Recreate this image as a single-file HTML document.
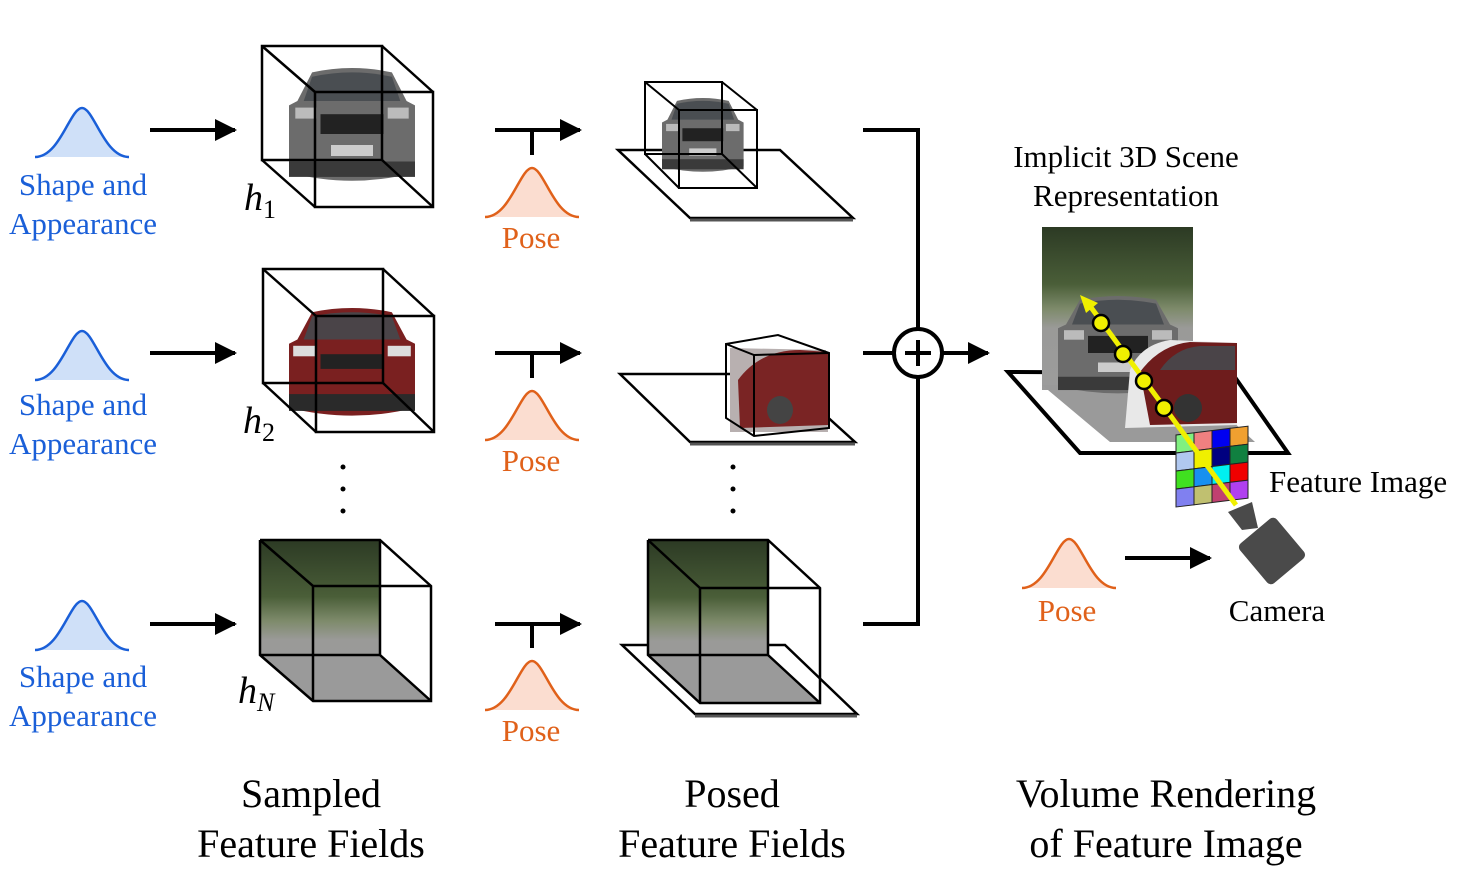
<!DOCTYPE html>
<html><head><meta charset="utf-8"><style>
html,body{margin:0;padding:0;background:#fff}
svg{display:block}
text{font-family:"Liberation Serif",serif}
</style></head><body>
<svg width="1471" height="883" viewBox="0 0 1471 883" xmlns="http://www.w3.org/2000/svg">
<defs>
<marker id="ah" markerWidth="22" markerHeight="22" refX="20" refY="11" orient="auto" markerUnits="userSpaceOnUse" viewBox="0 0 22 22">
<path d="M0,0 L22,11 L0,22 z" fill="#000"/></marker>
<linearGradient id="bg" x1="0" y1="0" x2="0" y2="1">
<stop offset="0" stop-color="#2c3a24"/><stop offset="0.35" stop-color="#4a5e38"/><stop offset="0.5" stop-color="#7d8a6a"/><stop offset="0.62" stop-color="#9a9a98"/><stop offset="1" stop-color="#9c9c9c"/></linearGradient>
<g id="gb"><path d="M0,49 C25,49 35,0 47,0 C59,0 69,49 94,49 Z" fill="#cfe0f8"/><path d="M0,49 C25,49 35,0 47,0 C59,0 69,49 94,49" fill="none" stroke="#1a5fd8" stroke-width="2.5"/></g>
<g id="go"><path d="M0,49 C25,49 35,0 47,0 C59,0 69,49 94,49 Z" fill="#fbddd0"/><path d="M0,49 C25,49 35,0 47,0 C59,0 69,49 94,49" fill="none" stroke="#e0611a" stroke-width="2.5"/></g>
<g id="carg">
<path d="M8,30 L22,4 Q60,-4 98,4 L112,30 L120,34 L120,95 Q60,110 0,95 L0,34 Z" fill="#6c6c6c"/>
<path d="M22,8 Q60,0 98,8 L106,30 L14,30 Z" fill="#4a4e52"/>
<rect x="30" y="42" width="60" height="18" fill="#222"/>
<rect x="6" y="36" width="20" height="10" fill="#bbb"/><rect x="94" y="36" width="20" height="10" fill="#bbb"/>
<rect x="40" y="70" width="40" height="10" fill="#ccc"/>
<rect x="0" y="85" width="120" height="14" fill="#3a3a3a"/>
</g>
<g id="carr">
<path d="M8,30 L22,4 Q60,-4 98,4 L112,30 L120,34 L120,95 Q60,110 0,95 L0,34 Z" fill="#7a2020"/>
<path d="M22,8 Q60,0 98,8 L106,30 L14,30 Z" fill="#4a4448"/>
<rect x="30" y="44" width="60" height="14" fill="#222"/>
<rect x="4" y="36" width="22" height="10" fill="#ddd"/><rect x="94" y="36" width="22" height="10" fill="#ddd"/>
<rect x="0" y="82" width="120" height="16" fill="#2a2a2a"/>
</g>
</defs>

<use href="#gb" x="35" y="108"/><use href="#gb" x="35" y="331"/><use href="#gb" x="35" y="601"/>
<g fill="#1a5fd8" font-size="31" text-anchor="middle">
<text x="83" y="195">Shape and</text><text x="83" y="234">Appearance</text>
<text x="83" y="415">Shape and</text><text x="83" y="454">Appearance</text>
<text x="83" y="687">Shape and</text><text x="83" y="726">Appearance</text>
</g>
<g stroke="#000" stroke-width="4" marker-end="url(#ah)">
<line x1="150" y1="130" x2="235" y2="130"/><line x1="150" y1="353" x2="235" y2="353"/><line x1="150" y1="624" x2="235" y2="624"/>
</g>

<use href="#carg" transform="translate(289,68) scale(1.05,1.1)"/>
<g fill="none" stroke="#000" stroke-width="2.5">
<rect x="262" y="46" width="120" height="114"/><rect x="315" y="92" width="118" height="115"/>
<line x1="262" y1="46" x2="315" y2="92"/><line x1="382" y1="46" x2="433" y2="92"/><line x1="262" y1="160" x2="315" y2="207"/><line x1="382" y1="160" x2="433" y2="207"/>
</g>
<text x="244" y="210" font-size="38" font-style="italic">h<tspan font-size="26" dy="8" font-style="normal">1</tspan></text>
<use href="#carr" transform="translate(289,308) scale(1.05,1.05)"/>
<g fill="none" stroke="#000" stroke-width="2.5">
<rect x="263" y="269" width="120" height="114"/><rect x="316" y="316" width="118" height="116"/>
<line x1="263" y1="269" x2="316" y2="316"/><line x1="383" y1="269" x2="434" y2="316"/><line x1="263" y1="383" x2="316" y2="432"/><line x1="383" y1="383" x2="434" y2="432"/>
</g>
<text x="243" y="433" font-size="38" font-style="italic">h<tspan font-size="26" dy="8" font-style="normal">2</tspan></text>
<g fill="#000"><circle cx="343" cy="467" r="2.5"/><circle cx="343" cy="489" r="2.5"/><circle cx="343" cy="511" r="2.5"/></g>
<polygon points="260,540 380,540 380,655 431,701 313,701 260,655" fill="url(#bg)"/>
<polygon points="260,655 313,701 431,701 380,655" fill="#9a9a9a"/>
<g fill="none" stroke="#000" stroke-width="2.5">
<polyline points="260,540 380,540 431,586 431,701 313,701 260,655 260,540"/>
<polyline points="260,540 313,586 431,586"/><line x1="313" y1="586" x2="313" y2="701"/><polyline points="380,540 380,655 431,701"/><line x1="260" y1="655" x2="380" y2="655"/>
</g>
<text x="238" y="703" font-size="38" font-style="italic">h<tspan font-size="26" dy="8" font-style="italic">N</tspan></text>

<g stroke="#000" stroke-width="4">
<line x1="495" y1="130" x2="580" y2="130" marker-end="url(#ah)"/><line x1="532" y1="130" x2="532" y2="155"/>
<line x1="495" y1="353" x2="580" y2="353" marker-end="url(#ah)"/><line x1="532" y1="353" x2="532" y2="378"/>
<line x1="495" y1="624" x2="580" y2="624" marker-end="url(#ah)"/><line x1="532" y1="624" x2="532" y2="648"/>
</g>
<use href="#go" x="485" y="168"/><use href="#go" x="485" y="391"/><use href="#go" x="485" y="661"/>
<g fill="#e0611a" font-size="31" text-anchor="middle">
<text x="531" y="248">Pose</text><text x="531" y="471">Pose</text><text x="531" y="741">Pose</text>
</g>

<polygon points="618,150 780,150 853,218 690,218" fill="#fff" stroke="#000" stroke-width="2.5"/>
<line x1="690" y1="220" x2="853" y2="220" stroke="#555" stroke-width="3"/>
<use href="#carg" transform="translate(662,98) scale(0.68,0.72)"/>
<g fill="none" stroke="#000" stroke-width="2">
<rect x="645" y="82" width="77" height="72"/><rect x="679" y="110" width="78" height="78"/>
<line x1="645" y1="82" x2="679" y2="110"/><line x1="722" y1="82" x2="757" y2="110"/><line x1="645" y1="154" x2="679" y2="188"/><line x1="722" y1="154" x2="757" y2="188"/>
</g>
<polygon points="620,374 780,374 855,442 690,442" fill="#fff" stroke="#000" stroke-width="2.5"/>
<line x1="690" y1="444" x2="855" y2="444" stroke="#555" stroke-width="3"/>
<polygon points="730,348 826,350 828,432 730,432" fill="#b8b0b0"/>
<path d="M738,380 Q760,350 800,350 L828,352 L828,425 L740,428 Z" fill="#7a2424"/>
<ellipse cx="780" cy="410" rx="13" ry="14" fill="#444"/>
<g fill="none" stroke="#000" stroke-width="2">
<polygon points="726,344 778,335 829,353 829,428 754,436 726,418"/>
<polyline points="726,344 754,355 829,353"/><line x1="754" y1="355" x2="754" y2="436"/>
</g>
<g fill="#000"><circle cx="733" cy="467" r="2.5"/><circle cx="733" cy="489" r="2.5"/><circle cx="733" cy="511" r="2.5"/></g>
<polygon points="622,645 785,645 857,714 695,714" fill="#fff" stroke="#000" stroke-width="2.5"/>
<line x1="695" y1="716" x2="857" y2="716" stroke="#555" stroke-width="3"/>
<polygon points="648,540 768,540 768,655 820,703 700,703 648,655" fill="url(#bg)"/>
<polygon points="648,655 700,703 820,703 768,655" fill="#9a9a9a"/>
<g fill="none" stroke="#000" stroke-width="2.5">
<polyline points="648,540 768,540 820,588 820,703 700,703 648,655 648,540"/>
<polyline points="648,540 700,588 820,588"/><line x1="700" y1="588" x2="700" y2="703"/><polyline points="768,540 768,655 820,703"/><line x1="648" y1="655" x2="768" y2="655"/>
</g>

<g stroke="#000" stroke-width="4" fill="none">
<polyline points="863,130 918,130 918,329"/><polyline points="918,377 918,624 863,624"/>
<line x1="863" y1="353" x2="894" y2="353"/>
<circle cx="918" cy="353" r="24" fill="#fff"/>
<line x1="905" y1="353" x2="931" y2="353"/><line x1="918" y1="340" x2="918" y2="366"/>
<line x1="942" y1="353" x2="988" y2="353" marker-end="url(#ah)"/>
</g>

<g font-size="31" text-anchor="middle" fill="#000">
<text x="1126" y="167">Implicit 3D Scene</text><text x="1126" y="206">Representation</text>
</g>
<polygon points="1008,372 1232,373 1288,453 1080,453" fill="#fff" stroke="#000" stroke-width="4"/>
<rect x="1042" y="227" width="151" height="163" fill="url(#bg)"/>
<polygon points="1042,385 1193,385 1255,442 1110,442" fill="#9a9a9a"/>
<use href="#carg" transform="translate(1058,296) scale(1.0,0.95)"/>
<path d="M1130,370 Q1140,345 1170,340 L1237,343 L1237,425 L1125,428 Z" fill="#e8e8e8"/>
<path d="M1140,372 Q1160,345 1190,342 L1237,343 L1237,423 L1150,425 Z" fill="#6e1c1c"/>
<path d="M1160,370 Q1175,348 1200,346 L1235,346 L1235,370 Z" fill="#4a4448"/>
<circle cx="1188" cy="408" r="14" fill="#333"/>
<g transform="translate(1176,435) skewY(-7)" stroke="#222" stroke-width="1">
<rect x="0" y="0" width="18" height="18" fill="#80f080"/><rect x="18" y="0" width="18" height="18" fill="#f08080"/><rect x="36" y="0" width="18" height="18" fill="#0000f0"/><rect x="54" y="0" width="18" height="18" fill="#f0a030"/>
<rect x="0" y="18" width="18" height="18" fill="#b0c8f0"/><rect x="18" y="18" width="18" height="18" fill="#f0f000"/><rect x="36" y="18" width="18" height="18" fill="#000080"/><rect x="54" y="18" width="18" height="18" fill="#108040"/>
<rect x="0" y="36" width="18" height="18" fill="#40e020"/><rect x="18" y="36" width="18" height="18" fill="#1890f0"/><rect x="36" y="36" width="18" height="18" fill="#00f0f0"/><rect x="54" y="36" width="18" height="18" fill="#f00000"/>
<rect x="0" y="54" width="18" height="18" fill="#8080f0"/><rect x="18" y="54" width="18" height="18" fill="#c0c070"/><rect x="36" y="54" width="18" height="18" fill="#c04070"/><rect x="54" y="54" width="18" height="18" fill="#b040f0"/>
</g>
<line x1="1236" y1="505" x2="1090" y2="306" stroke="#f0f000" stroke-width="5"/>
<polygon points="1080,295 1098,303 1086,313" fill="#f0f000"/>
<g fill="#f0f000" stroke="#000" stroke-width="2.5">
<circle cx="1101" cy="323" r="8"/><circle cx="1123" cy="354" r="8"/><circle cx="1144" cy="381" r="8"/><circle cx="1164" cy="408" r="8"/>
</g>
<text x="1269" y="492" font-size="31">Feature Image</text>
<polygon points="1228,512 1252,502 1258,528 1242,530" fill="#4a4a4a"/>
<rect x="1248" y="525" width="48" height="52" rx="5" fill="#4a4a4a" transform="rotate(-40 1272 551)"/>
<use href="#go" x="1022" y="539"/>
<text x="1067" y="621" font-size="31" fill="#e0611a" text-anchor="middle">Pose</text>
<line x1="1125" y1="558" x2="1210" y2="558" stroke="#000" stroke-width="4" marker-end="url(#ah)"/>
<text x="1277" y="621" font-size="31" text-anchor="middle">Camera</text>

<g font-size="40" text-anchor="middle" fill="#000">
<text x="311" y="807">Sampled</text><text x="311" y="857">Feature Fields</text>
<text x="732" y="807">Posed</text><text x="732" y="857">Feature Fields</text>
<text x="1166" y="807">Volume Rendering</text><text x="1166" y="857">of Feature Image</text>
</g>
</svg>
</body></html>
